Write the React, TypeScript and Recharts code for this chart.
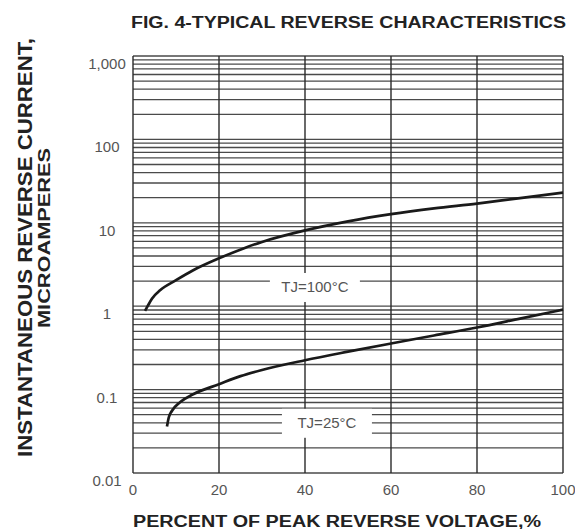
import React from 'react';
import { LineChart, Line, XAxis, YAxis, CartesianGrid, ReferenceDot } from 'recharts';

// ---- axis ticks / labels ----
const xTicks = [0, 20, 40, 60, 80, 100];
const decadeTicks = [0.01, 0.1, 1, 10, 100, 1000];
const decadeLabels = ['0.01', '0.1', '1', '10', '100', '1,000'];
const minorSteps = [1, 2, 3, 4, 5, 6, 7, 8, 9];

// ---- series: TJ = 100°C ----
const tj100X = [2.8, 3.4, 4.4, 6.3, 10, 14, 20, 26, 30, 40, 50, 60, 70, 80, 90, 100];
const tj100Y = [0.88, 1.0, 1.23, 1.55, 2.05, 2.7, 3.75, 5.0, 5.9, 8.1, 10.4, 12.7, 14.9, 17.0, 19.8, 23.0];

// ---- series: TJ = 25°C ----
const tj25X = [7.9, 8.3, 9, 11, 14, 20, 25, 30, 40, 50, 60, 70, 80, 90, 100];
const tj25Y = [0.036, 0.046, 0.055, 0.071, 0.088, 0.116, 0.145, 0.172, 0.225, 0.285, 0.357, 0.445, 0.555, 0.71, 0.91];

// ---- curve annotation anchors (data coords) ----
const labelTexts = ['TJ=100°C', 'TJ=25°C'];
const labelX = [42.3, 45.1];
const labelY = [1.7, 0.04];

const titleText = 'FIG. 4-TYPICAL REVERSE CHARACTERISTICS';
const xTitle = 'PERCENT OF PEAK REVERSE VOLTAGE,%';
const yTitle1 = 'INSTANTANEOUS REVERSE CURRENT,';
const yTitle2 = 'MICROAMPERES';

const yGridTicks: number[] = [];
decadeTicks.slice(0, 5).forEach((d) => minorSteps.forEach((m) => yGridTicks.push(Number((d * m).toPrecision(6)))));
yGridTicks.push(1000);

const tj100Data = tj100X.map((x, i) => ({ x, y: tj100Y[i] }));
const tj25Data = tj25X.map((x, i) => ({ x, y: tj25Y[i] }));

const FONT = '"Liberation Sans", Arial, sans-serif';

const YTick = (props: any) => {
  const { y, payload } = props;
  const idx = decadeTicks.findIndex((d) => Math.abs(d - payload.value) < d * 1e-6);
  if (idx < 0) return <g />;
  return (
    <text x={107} y={y + 13} textAnchor="middle" fontFamily={FONT} fontSize={15} fill="#555">
      {decadeLabels[idx]}
    </text>
  );
};

const XTick = (props: any) => {
  const { x, y, payload } = props;
  return (
    <text x={x} y={y + 14} textAnchor="middle" fontFamily={FONT} fontSize={15} fill="#555">
      {payload.value}
    </text>
  );
};

const makeLabel = (text: string) => (props: any) => {
  const { cx, cy } = props;
  return (
    <g>
      <rect x={cx - 45} y={cy - 14} width={90} height={29} fill="#fff" />
      <text x={cx} y={cy + 5} textAnchor="middle" fontFamily={FONT} fontSize={15} fill="#555">
        {text}
      </text>
    </g>
  );
};

export default function App() {
  return (
    <div style={{ position: 'absolute', left: 0, top: 0, width: 575, height: 529, background: '#fff' }}>
      <LineChart width={575} height={529} margin={{ top: 56, right: 12, bottom: 0, left: 0 }}>
        <XAxis
          type="number"
          dataKey="x"
          domain={[0, 100]}
          ticks={xTicks}
          interval={0}
          axisLine={false}
          tickLine={false}
          height={56}
          tick={<XTick />}
        />
        <YAxis
          type="number"
          dataKey="y"
          scale="log"
          domain={[0.01, 1000]}
          ticks={yGridTicks}
          interval={0}
          allowDataOverflow
          axisLine={false}
          tickLine={false}
          width={133}
          tick={<YTick />}
        />
        <CartesianGrid vertical={false} stroke="#4a4a4a" strokeWidth={1.3} />
        <CartesianGrid horizontal={false} stroke="#2a2a2a" strokeWidth={1.4} />
        {labelTexts.map((t, i) => (
          <ReferenceDot key={t} x={labelX[i]} y={labelY[i]} r={0} shape={makeLabel(t)} />
        ))}
        <Line data={tj100Data} dataKey="y" type="monotone" stroke="#1a1a1a" strokeWidth={2.7} dot={false} isAnimationActive={false} />
        <Line data={tj25Data} dataKey="y" type="monotone" stroke="#1a1a1a" strokeWidth={2.7} dot={false} isAnimationActive={false} />
      </LineChart>
      <svg width={575} height={529} style={{ position: 'absolute', left: 0, top: 0, pointerEvents: 'none' }}>
        <text x={131} y={28} fontFamily={FONT} fontWeight="bold" fontSize={16} fill="#222" textLength={435} lengthAdjust="spacingAndGlyphs">
          {titleText}
        </text>
        <text x={133} y={527} fontFamily={FONT} fontWeight="bold" fontSize={16} fill="#222" textLength={408} lengthAdjust="spacingAndGlyphs">
          {xTitle}
        </text>
        <text x={32} y={247.5} transform="rotate(-90 32 247.5)" textAnchor="middle" fontFamily={FONT} fontWeight="bold" fontSize={20} fill="#222" textLength={419} lengthAdjust="spacingAndGlyphs">
          {yTitle1}
        </text>
        <text x={50} y={238} transform="rotate(-90 50 238)" textAnchor="middle" fontFamily={FONT} fontWeight="bold" fontSize={16} fill="#222" textLength={180} lengthAdjust="spacingAndGlyphs">
          {yTitle2}
        </text>
      </svg>
    </div>
  );
}
